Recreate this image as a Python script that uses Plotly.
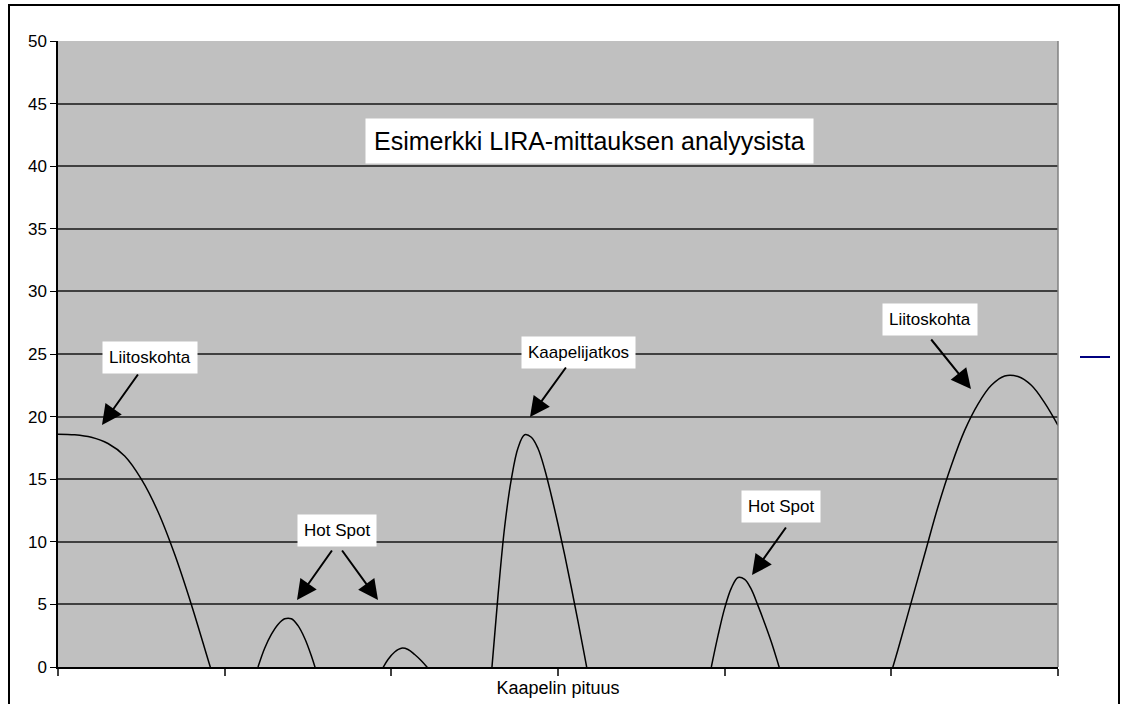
import plotly.graph_objects as go

# Cable position (in tick intervals along the cable) and measured signal.
# None separates the visible humps (signal below the 0 axis in between).
position = [0.0, 0.1, 0.2, 0.3, 0.4, 0.5, 0.6, 0.7, 0.8, 0.9, 0.95, None,
            1.20, 1.24, 1.28, 1.32, 1.36, 1.40, 1.44, 1.48, 1.52, 1.56, None,
            1.94, 1.98, 2.02, 2.06, 2.10, 2.14, 2.18, 2.22, None,
            2.60, 2.64, 2.68, 2.72, 2.76, 2.80, 2.84, 2.88, 2.92, 2.96, 3.00,
            3.04, 3.08, 3.12, 3.16, 3.20, None,
            3.92, 3.96, 4.00, 4.04, 4.08, 4.12, 4.16, 4.20, 4.24, 4.28, 4.32, 4.36, None,
            4.96, 5.04, 5.12, 5.20, 5.28, 5.36, 5.44, 5.52, 5.60, 5.68, 5.76, 5.84, 5.92, 6.00]
signal = [18.6, 18.55, 18.35, 17.85, 16.85, 15.0, 12.4, 9.0, 5.0, 0.6, -1.6, None,
          0.0, 1.5, 2.6, 3.4, 3.85, 3.85, 3.3, 2.3, 0.9, -0.8, None,
          -0.3, 0.6, 1.2, 1.5, 1.4, 1.0, 0.5, -0.1, None,
          -0.6, 5.7, 11.2, 15.0, 17.5, 18.55, 18.35, 17.45, 15.8, 13.7, 11.4,
          8.95, 6.35, 3.65, 0.85, -2.0, None,
          0.0, 2.5, 4.7, 6.3, 7.15, 7.0, 6.2, 4.9, 3.5, 2.0, 0.3, -1.5, None,
          -2.2, 1.4, 5.2, 9.0, 12.8, 16.1, 18.9, 21.0, 22.5, 23.25, 23.2, 22.5, 21.1, 19.3]

y_ticks = [0, 5, 10, 15, 20, 25, 30, 35, 40, 45, 50]
x_ticks = [0, 1, 2, 3, 4, 5, 6]

title_text = "Esimerkki LIRA-mittauksen analyysista"
x_title = "Kaapelin pituus"

FONT = "Liberation Sans, Arial, sans-serif"

fig = go.Figure()
fig.add_trace(go.Scatter(x=position, y=signal, mode="lines", connectgaps=False,
                         line=dict(color="black", width=1.5, shape="spline", smoothing=1.0),
                         showlegend=False, hoverinfo="skip"))
fig.add_trace(go.Scatter(x=[None], y=[None], mode="lines", name="",
                         line=dict(color="#000080", width=2), showlegend=True))

W, H = 1125, 704
L, R, T, B = 58, 1058, 41, 667


def px(xp):
    return (xp - L) / (R - L)


def py(yp):
    return (B - yp) / (B - T)


# text boxes: (text, center x px, center y px, font size, padding)
boxes = [
    (title_text, 589, 141, 25, 8),
    ("Liitoskohta", 150, 357, 17, 6),
    ("Hot Spot", 337, 530, 17, 6),
    ("Kaapelijatkos", 578, 352, 17, 6),
    ("Hot Spot", 781, 506, 17, 6),
    ("Liitoskohta", 930, 319, 17, 6),
]
# arrows: (tail x, tail y, tip x, tip y) in pixels
arrows = [
    (139, 373, 102, 425),
    (333, 549, 297, 600),
    (341, 549, 378, 600),
    (567, 366, 530, 417),
    (787, 526, 752, 575),
    (930, 338, 971, 389),
]

annotations = []
for (t, cx, cy, fs, pad) in boxes:
    annotations.append(dict(text=t, x=px(cx), y=py(cy), xref="paper", yref="paper",
                            xanchor="center", yanchor="middle", showarrow=False,
                            bgcolor="white", borderpad=pad,
                            font=dict(family=FONT, size=fs, color="black")))
for (tx, ty, hx, hy) in arrows:
    annotations.append(dict(text="", x=px(hx), y=py(hy), xref="paper", yref="paper",
                            ax=tx - hx, ay=ty - hy, showarrow=True,
                            arrowhead=2, arrowsize=2.0, arrowwidth=2, arrowcolor="black"))

shapes = [
    # outer chart border
    dict(type="rect", xref="paper", yref="paper", x0=px(9), x1=px(1119), y0=py(708), y1=py(5),
         line=dict(color="black", width=2), fillcolor="rgba(0,0,0,0)", layer="below"),
    # right edge of plot area
    dict(type="line", xref="paper", yref="paper", x0=1, x1=1, y0=0, y1=1,
         line=dict(color="#808080", width=1.5)),
]

fig.update_layout(
    autosize=False, width=W, height=H,
    margin=dict(l=L, r=W - R, t=T, b=H - B, autoexpand=False),
    paper_bgcolor="white", plot_bgcolor="#C0C0C0",
    font=dict(family=FONT, size=17, color="black"),
    annotations=annotations, shapes=shapes,
    legend=dict(x=px(1075), y=py(357), xanchor="left", yanchor="middle",
                bgcolor="rgba(0,0,0,0)", itemwidth=30, font=dict(size=1)),
)
fig.update_xaxes(range=[0, 6], tickvals=x_ticks, showticklabels=False, ticks="outside",
                 ticklen=7, tickcolor="#404040", tickwidth=1.5, showgrid=False, zeroline=False,
                 showline=True, linecolor="black", linewidth=1.5,
                 title=dict(text=x_title, font=dict(family=FONT, size=18), standoff=7))
fig.update_yaxes(range=[0, 50], tickvals=y_ticks, ticks="outside", ticklen=6,
                 tickcolor="black", tickwidth=1, showgrid=True, gridcolor="#404040",
                 gridwidth=1.5, zeroline=False, showline=True, linecolor="black",
                 linewidth=1.5, tickfont=dict(family=FONT, size=17))

fig.write_html("out.html", config={"displayModeBar": False, "responsive": False},
               post_script="document.body.style.margin='0';document.body.style.overflow='hidden';")
